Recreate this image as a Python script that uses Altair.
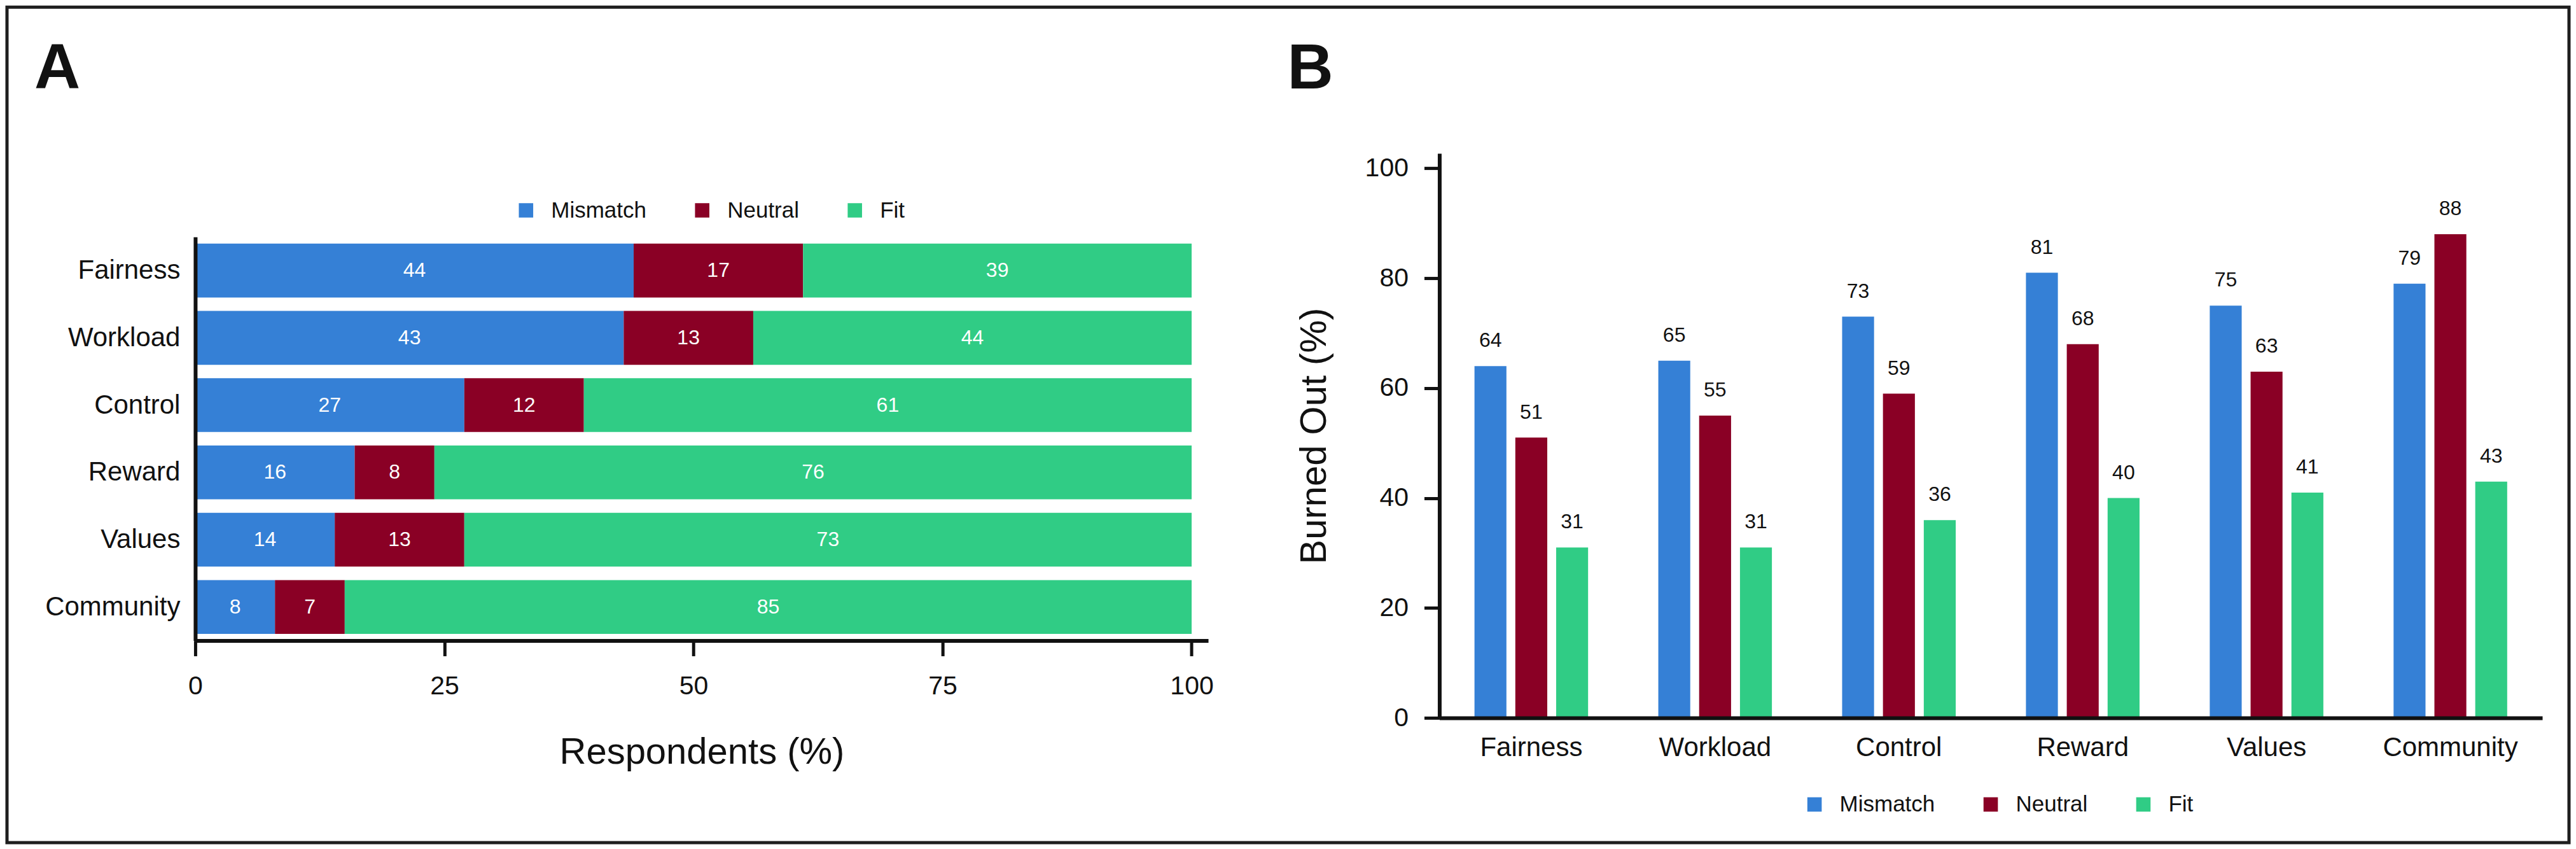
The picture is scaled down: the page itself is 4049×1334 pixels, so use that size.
import altair as alt
import pandas as pd

# ---------------- data ----------------
categories = ["Fairness", "Workload", "Control", "Reward", "Values", "Community"]
responses = ["Mismatch", "Neutral", "Fit"]
colors = ["#3580d6", "#8a0025", "#30cc85"]

# Panel A: respondents (%)
resp_mismatch = [44, 43, 27, 16, 14, 8]
resp_neutral = [17, 13, 12, 8, 13, 7]
resp_fit = [39, 44, 61, 76, 73, 85]

# Panel B: burned out (%)
burn_mismatch = [64, 65, 73, 81, 75, 79]
burn_neutral = [51, 55, 59, 68, 63, 88]
burn_fit = [31, 31, 36, 40, 41, 43]

x_ticks_a = [0, 25, 50, 75, 100]
y_ticks_b = [0, 20, 40, 60, 80, 100]


def to_long(a, b, c):
    rows = []
    for i, cat in enumerate(categories):
        for j, (r, vals) in enumerate(zip(responses, [a, b, c])):
            rows.append({"cat": cat, "resp": r, "ord": j, "value": vals[i]})
    return pd.DataFrame(rows)


df_a = to_long(resp_mismatch, resp_neutral, resp_fit)
df_b = to_long(burn_mismatch, burn_neutral, burn_fit)
one = pd.DataFrame({"k": [0]})

FONT = "Liberation Sans"
INK = "#111111"
FRAME = "#1e1e1e"
NOVIEW = alt.ViewBackground(stroke="transparent", strokeWidth=0, fill="transparent")


def make_legend(lx, ly):
    return alt.Legend(
        title=None, orient="none", legendX=lx, legendY=ly, direction="horizontal",
        symbolType="square", symbolSize=510, symbolStrokeWidth=0,
        labelFontSize=35, labelFont=FONT, labelColor=INK, labelOffset=22,
        columnPadding=70, padding=0, labelLimit=0,
    )


# ---------------- panel A ----------------
base_a = alt.Chart(df_a).transform_stack(
    stack="value", groupby=["cat"], as_=["x0", "x1"], sort=[alt.SortField("ord")]
).transform_calculate(mid="(datum.x0 + datum.x1) / 2")

ya = alt.Y(
    "cat:N", sort=categories, title=None,
    scale=alt.Scale(range=[131.2, 765.7], paddingInner=0.2, paddingOuter=0.1),
    axis=alt.Axis(ticks=False, tickSize=0, domainWidth=6, domainColor=INK,
                  labelFontSize=42, labelFont=FONT, labelColor=INK, labelPadding=24,
                  labelLimit=0, grid=False, zindex=1),
)
xa = alt.X(
    "x0:Q", scale=alt.Scale(domain=[0, 101.66], nice=False),
    axis=alt.Axis(values=x_ticks_a, title="Respondents (%)", titleFont=FONT,
                  titleFontSize=58, titleFontWeight="normal", titleColor=INK,
                  titlePadding=55, tickSize=24, tickWidth=5, tickColor=INK,
                  domainWidth=6, domainColor=INK, labelFontSize=41, labelFont=FONT,
                  labelColor=INK, labelPadding=28, labelFlush=False, grid=False,
                  zindex=1),
)

bars_a = base_a.mark_bar().encode(
    y=ya, x=xa, x2="x1:Q",
    color=alt.Color("resp:N", sort=responses,
                    scale=alt.Scale(domain=responses, range=colors),
                    legend=make_legend(502.5, 71.7)),
)
text_a = base_a.mark_text(color="white", fontSize=32, font=FONT, baseline="middle").encode(
    y=alt.Y("cat:N", sort=categories), x=alt.X("mid:Q"), text="value:Q"
)
frame = alt.Chart(one).mark_rect(filled=False, stroke=FRAME, strokeWidth=5).encode(
    x=alt.value(-296), x2=alt.value(3732), y=alt.value(-229.8), y2=alt.value(1083.2)
)
lab_a = alt.Chart(one).mark_text(
    text="A", fontSize=100, fontWeight="bold", font=FONT, align="left",
    baseline="alphabetic", color=INK
).encode(x=alt.value(-253), y=alt.value(-102.3))

chart_a = alt.layer(bars_a, text_a, lab_a, frame).properties(
    width=1592.5, height=765.7, view=NOVIEW
)

# ---------------- panel B ----------------
xb = alt.X(
    "cat:N", sort=categories, title=None,
    scale=alt.Scale(paddingInner=0.382, paddingOuter=0.191),
    axis=alt.Axis(labelAngle=0, ticks=False, tickSize=0, domainWidth=6, domainColor=INK,
                  labelFontSize=42, labelFont=FONT, labelColor=INK, labelPadding=26,
                  labelLimit=0, grid=False, zindex=1),
)
xo = alt.XOffset("resp:N", sort=responses, scale=alt.Scale(paddingInner=0.218, paddingOuter=0))
yb = alt.Y(
    "value:Q", scale=alt.Scale(domain=[0, 102.7], nice=False),
    axis=alt.Axis(values=y_ticks_b, title="Burned Out (%)", titleFont=FONT,
                  titleFontSize=58, titleFontWeight="normal", titleColor=INK,
                  titlePadding=50, tickSize=24, tickWidth=5, tickColor=INK,
                  domainWidth=6, domainColor=INK, labelFontSize=41, labelFont=FONT,
                  labelColor=INK, labelPadding=25, labelFlush=False, grid=False,
                  zindex=1),
)
bars_b = alt.Chart(df_b).mark_bar().encode(
    x=xb, xOffset=xo, y=yb,
    color=alt.Color("resp:N", sort=responses,
                    scale=alt.Scale(domain=responses, range=colors),
                    legend=make_legend(572.3, 1005.4)),
)
text_b = alt.Chart(df_b).mark_text(
    dy=-30, baseline="alphabetic", fontSize=32, font=FONT, color=INK
).encode(
    x=alt.X("cat:N", sort=categories), xOffset=alt.XOffset("resp:N", sort=responses),
    y=alt.Y("value:Q"), text="value:Q"
)
lab_b = alt.Chart(one).mark_text(
    text="B", fontSize=100, fontWeight="bold", font=FONT, align="left",
    baseline="alphabetic", color=INK
).encode(x=alt.value(-238.9), y=alt.value(-102.5))

chart_b = alt.layer(bars_b, text_b, lab_b).properties(
    width=1734, height=887.2, view=NOVIEW
)

chart = alt.hconcat(chart_a, chart_b, spacing=363, bounds="flush").resolve_scale(
    color="independent"
).resolve_legend(color="independent").properties(
    padding=0, background="white"
).configure_view(stroke="transparent", strokeWidth=0).configure(font=FONT)

chart.save("out.html", embed_options={"renderer": "svg", "actions": False})
